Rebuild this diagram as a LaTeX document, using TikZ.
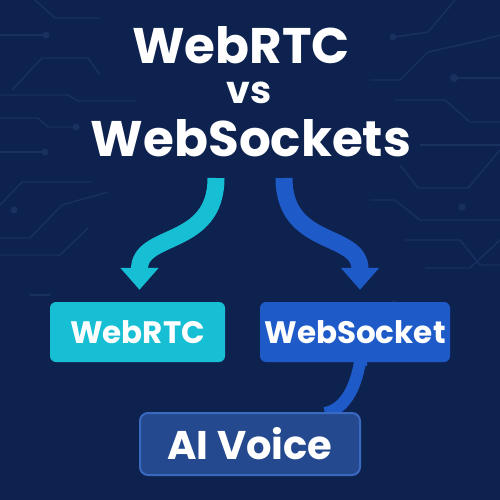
\documentclass[tikz,border=0pt]{standalone}
\usepackage{fontspec}
\setmainfont{Poppins}[BoldFont={* Bold}]
\usetikzlibrary{arrows.meta}
\pgfdeclarelayer{back}
\pgfsetlayers{back,main}
\definecolor{bg}{HTML}{0E2250}
\definecolor{trace}{HTML}{18315F}
\definecolor{cyanc}{HTML}{16BFD3}
\definecolor{bluec}{HTML}{1F5BC8}
\definecolor{aifill}{HTML}{24498F}
\definecolor{aidraw}{HTML}{3A6AC0}
\tikzset{
  tr/.style={draw=trace, line width=1.4pt},
  trdot/.style={fill=trace},
  title/.style={text=white, font=\bfseries},
  boxc/.style={rounded corners=6pt, minimum height=60pt, text=white, font=\bfseries\fontsize{31}{31}\selectfont, inner sep=0pt},
  flowc/.style={line width=17pt, -{Triangle[width=37pt,length=22pt]}},
}
\begin{document}
\begin{tikzpicture}[x=1pt,y=-1pt]
\begin{pgfonlayer}{back}
\fill[bg] (0,0) rectangle (500,500);
\end{pgfonlayer}
\useasboundingbox (0,0) rectangle (500,500);
% circuit traces left
\draw[tr] (35,0) -- (55,18) -- (100,18);
\draw[tr] (0,35) -- (45,35); \fill[trdot] (46,35) circle (3.5);
\draw[tr] (12,90) -- (42,58) -- (88,58) -- (100,75);
\draw[tr] (0,95) -- (68,95) -- (78,101) -- (135,101);
\draw[tr] (0,118) -- (38,118) -- (48,127) -- (75,127); \fill[trdot] (76,127) circle (3.5);
\draw[tr] (0,152) -- (44,152); \fill[trdot] (45,152) circle (3.5);
\draw[tr] (0,205) -- (22,182) -- (92,182);
\draw[tr] (0,238) -- (30,238) -- (62,205) -- (108,192);
\fill[trdot] (14,210) circle (3.5);
\draw[tr] (0,255) -- (60,255) -- (88,228);
\draw[tr] (30,295) -- (50,295);
% circuit traces right
\draw[tr] (455,0) -- (428,32) -- (395,37); \fill[trdot] (393,37) circle (3.5);
\draw[tr] (500,35) -- (482,40) -- (428,52) -- (400,80) -- (370,80);
\draw[tr] (455,78) -- (500,78); \fill[trdot] (454,78) circle (4);
\draw[tr] (395,100) -- (445,100) -- (470,122) -- (500,122);
\draw[tr] (420,145) -- (500,145);
\draw[tr] (400,165) -- (418,188) -- (468,188) -- (500,150);
\draw[tr] (370,200) -- (395,200) -- (420,220) -- (500,220); \fill[trdot] (462,207) circle (3.5);
\draw[tr] (405,240) -- (460,240) -- (480,265) -- (500,265);
\draw[tr] (425,268) -- (470,268) -- (500,240);
\draw[tr] (385,308) -- (395,300);
% title
\node[title, font=\bfseries\fontsize{50}{50}\selectfont] (t1) at (241,45) {WebRTC};
\node[title, font=\bfseries\fontsize{38}{38}\selectfont] (t2) at (249,93) {vs};
\node[title, font=\bfseries\fontsize{50}{50}\selectfont] (t3) at (251,138) {WebSockets};
% boxes
\node[boxc, fill=cyanc, minimum width=175pt] (rtc) at (137.5,332) {WebRTC};
\node[boxc, fill=bluec, minimum width=190pt] (ws) at (355,332) {WebSocket};
\node[rounded corners=8pt, fill=aifill, draw=aidraw, line width=2pt, minimum width=220pt, minimum height=62pt, text=white, font=\bfseries\fontsize{40}{40}\selectfont, inner sep=0pt] (ai) at (250,444) {AI Voice};
% arrows
\coordinate (ca) at (216,178);
\coordinate (ba) at (284,178);
\draw[flowc, cyanc] (ca) .. controls +(0,70) and +(0,-70) .. ([xshift=2pt]rtc.north) [shorten >=12pt];
\draw[flowc, bluec] (ba) .. controls +(0,70) and +(0,-70) .. ([xshift=5pt]ws.north) [shorten >=12pt];
% connector to AI Voice (behind boxes)
\coordinate (wsb) at ([xshift=6pt]ws.south);
\begin{pgfonlayer}{back}
\draw[bluec, line width=12pt] ([yshift=-4pt]wsb) -- ([yshift=14pt]wsb) .. controls +(0,22) and +(26,-4) .. ([xshift=75pt,yshift=-1pt]ai.north);
\end{pgfonlayer}
\end{tikzpicture}
\end{document}
